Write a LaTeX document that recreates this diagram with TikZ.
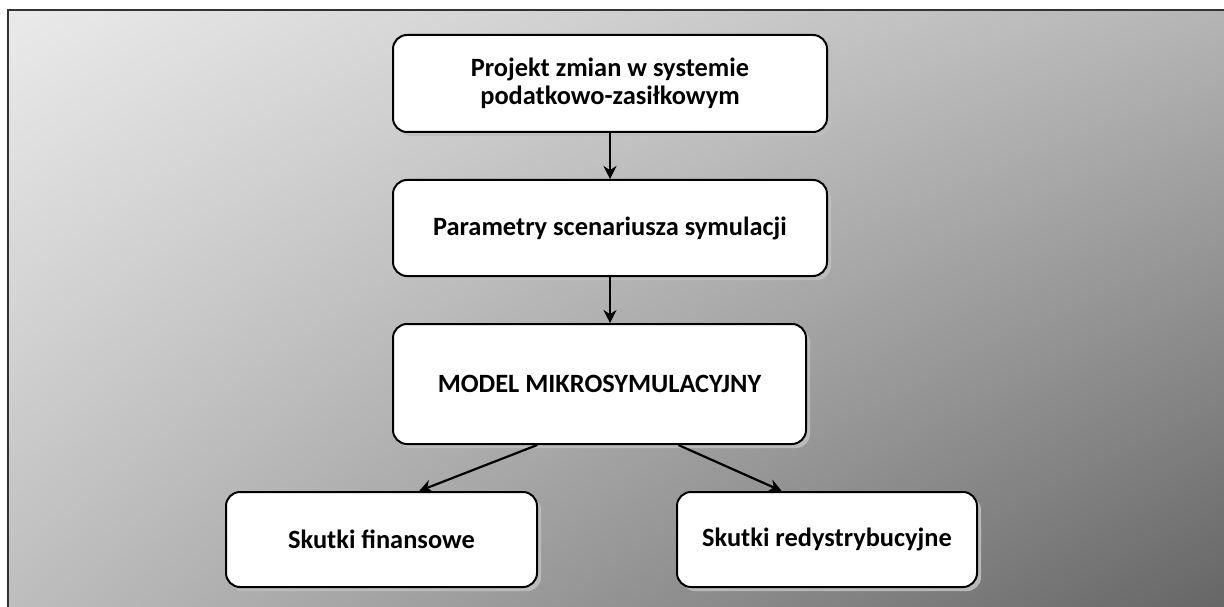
\documentclass[tikz,border=0pt]{standalone}
\usepackage{fontspec}
\setmainfont{Carlito}
\usetikzlibrary{arrows.meta, shadows, shadings, calc}

\definecolor{bgtl}{HTML}{EAEAEA}
\definecolor{bgtr}{HTML}{B4B4B4}
\definecolor{bgbl}{HTML}{BDBDBD}
\definecolor{bgbr}{HTML}{646464}

\begin{document}
\begin{tikzpicture}[
    x=0.5pt, y=0.5pt,
    stage/.style={draw, line width=1pt, rounded corners=7pt, fill=white, align=center,
        font=\fontsize{13.2}{13.8}\selectfont\bfseries,
        drop shadow={shadow xshift=2pt, shadow yshift=-2pt, fill=black!25, opacity=0.9}},
    arrow/.style={-{Stealth[length=6.5pt, width=6.5pt]}, line width=1.1pt}
]
    \useasboundingbox (0,0) rectangle (1224,606);

    % Background panel
    \shade[upper left=bgtl, upper right=bgtr, lower left=bgbl, lower right=bgbr] (8,-10) rectangle (1234,596);
    \draw[black!80, line width=1pt] (8,-10) |- (1234,596);

    % Boxes
    \node[stage, minimum width=217pt, minimum height=48.5pt] (proj) at (610,522.5) {Projekt zmian w systemie\\podatkowo-zasiłkowym};
    \node[stage, minimum width=217pt, minimum height=48pt] (param) at (610,378) {Parametry scenariusza symulacji};
    \node[stage, minimum width=206.5pt, minimum height=60pt] (model) at (599.5,222) {MODEL MIKROSYMULACYJNY};
    \node[stage, minimum width=155.5pt, minimum height=47.5pt] (fin) at (381.5,66.5) {Skutki finansowe};
    \node[stage, minimum width=150pt, minimum height=47.5pt] (redis) at (827,66.5) {Skutki redystrybucyjne};

    % Arrows
    \draw[arrow] (proj.south) -- (param.north);
    \draw[arrow] (param.south) -- (param.south |- model.north);
    \draw[arrow] ($(model.south west)!0.35!(model.south east)$) -- ($(fin.north west)!0.62!(fin.north east)$);
    \draw[arrow] ($(model.south west)!0.69!(model.south east)$) -- ($(redis.north west)!0.35!(redis.north east)$);
\end{tikzpicture}
\end{document}
